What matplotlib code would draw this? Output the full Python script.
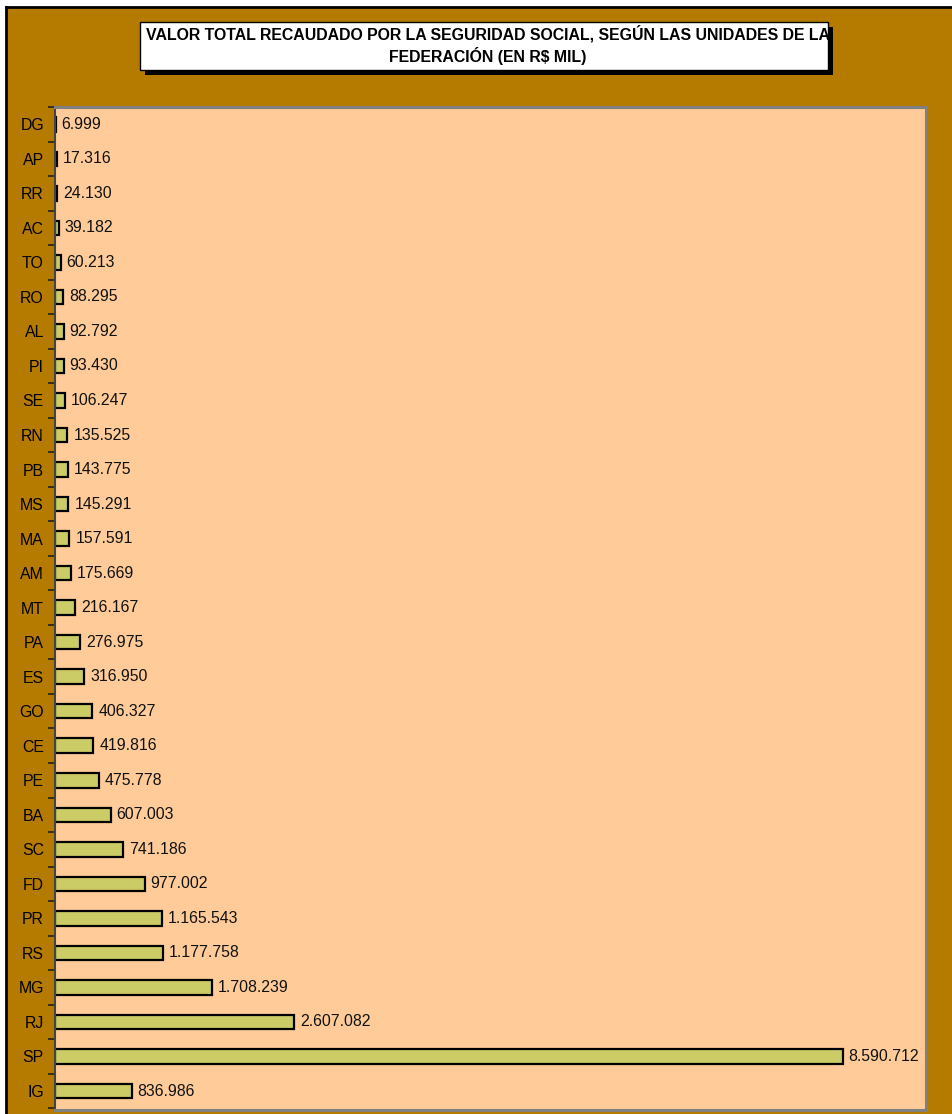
import matplotlib.pyplot as plt
from matplotlib.patches import Rectangle

plt.rcParams['font.family'] = ['Liberation Sans', 'DejaVu Sans']

estados = ['DG', 'AP', 'RR', 'AC', 'TO', 'RO', 'AL', 'PI', 'SE', 'RN', 'PB', 'MS',
           'MA', 'AM', 'MT', 'PA', 'ES', 'GO', 'CE', 'PE', 'BA', 'SC', 'FD', 'PR',
           'RS', 'MG', 'RJ', 'SP', 'IG']
valores = [6999, 17316, 24130, 39182, 60213, 88295, 92792, 93430, 106247, 135525,
           143775, 145291, 157591, 175669, 216167, 276975, 316950, 406327, 419816,
           475778, 607003, 741186, 977002, 1165543, 1177758, 1708239, 2607082,
           8590712, 836986]

titulo = ('VALOR TOTAL RECAUDADO POR LA SEGURIDAD SOCIAL, SEGÚN LAS UNIDADES DE LA\n'
          'FEDERACIÓN (EN R$ MIL)')

fondo = '#b57a00'
area = '#ffcc99'
barra = '#cccc66'

W, H = 953, 1114
fig = plt.figure(figsize=(W / 100, H / 100), dpi=100)
fig.patch.set_facecolor('white')

# marco exterior
fig.patches.append(Rectangle((6 / W, 0), 1, 1 - 7 / H, transform=fig.transFigure,
                             facecolor=fondo, edgecolor='none', zorder=-5))
fig.add_artist(plt.Line2D([6 / W, 6 / W], [0, 1 - 7 / H], color='black', lw=2,
                          transform=fig.transFigure, zorder=-4))
fig.add_artist(plt.Line2D([6 / W, 1], [1 - 7 / H, 1 - 7 / H], color='black', lw=2,
                          transform=fig.transFigure, zorder=-4))

ax = fig.add_axes([55 / W, 4 / H, 871 / W, 1003 / H])
ax.set_zorder(1)
ax.set_facecolor(area)

y = list(range(len(estados)))
ax.barh(y, valores, height=0.42, color=barra, edgecolor='black', linewidth=1.6)
for yi, v in zip(y, valores):
    ax.text(v + 65000, yi, f'{v:,}'.replace(',', '.'), va='center', ha='left',
            fontsize=11.4, color='#111111')

ax.set_xlim(0, 9500000)
ax.set_ylim(len(estados) - 0.45, -0.5)
ax.set_xticks([])
ax.set_yticks(y)
ax.set_yticklabels(estados, fontsize=11.4)
ax.tick_params(axis='y', length=0, pad=8)
ax.set_yticks([i + 0.5 for i in range(-1, len(estados))], minor=True)
ax.tick_params(axis='y', which='minor', length=5, width=1.2, color='#222222')

for s in ['top', 'right', 'bottom']:
    ax.spines[s].set_color('#808080')
    ax.spines[s].set_linewidth(2.2)
ax.spines['left'].set_color('#444444')
ax.spines['left'].set_linewidth(1.5)

# cuadro del titulo con sombra
bx0, bx1, by0, by1 = 140, 828, 22, 70
fig.patches.append(Rectangle(((bx0 + 5) / W, 1 - (by1 + 5) / H), (bx1 - bx0) / W,
                             (by1 - by0) / H, transform=fig.transFigure,
                             facecolor='black', edgecolor='none', zorder=2))
caja = Rectangle((bx0 / W, 1 - by1 / H), (bx1 - bx0) / W, (by1 - by0) / H,
                 transform=fig.transFigure, facecolor='white', edgecolor='black',
                 lw=1, zorder=3)
fig.patches.append(caja)
t = fig.text((bx0 + bx1) / 2 / W + 4 / W, 1 - 45 / H, titulo, ha='center', va='center',
             fontsize=11.4, fontweight='bold', linespacing=1.3, zorder=4)
t.set_clip_path(caja)

fig.savefig('out.png', dpi=100, facecolor=fig.get_facecolor())
